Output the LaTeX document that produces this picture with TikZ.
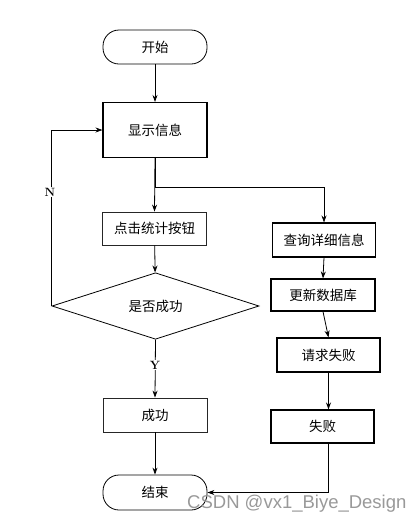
\documentclass[tikz,border=0pt]{standalone}
\usepackage{fontspec}
\newfontfamily\cjk{Noto Sans CJK SC}
\newfontfamily\wm{Liberation Sans}
\usetikzlibrary{shapes.geometric,arrows.meta}
\begin{document}
\begin{tikzpicture}[x=1pt,y=-1pt,
  font=\cjk\fontsize{13.5}{15}\selectfont,
  boxa/.style={draw, line width=1.1pt, rectangle, minimum width=103pt, minimum height=33pt, inner sep=0pt},
  boxb/.style={draw, line width=0.8pt, draw=black!85, rectangle, minimum width=104pt, minimum height=33pt, inner sep=0pt},
  pill/.style={draw, line width=0.8pt, rectangle, rounded corners=16pt, minimum width=104pt, minimum height=34pt, inner sep=0pt},
  decision/.style={draw, line width=0.8pt, diamond, minimum width=207pt, minimum height=55pt, inner sep=0pt},
  arr/.style={draw, line width=0.8pt, -{Stealth[length=7pt,width=5pt]}},
  lbl/.style={font=\rmfamily\bfseries\fontsize{12}{13}\selectfont, fill=white, inner sep=1pt}]
\useasboundingbox (0,0) rectangle (419,523);
\node[pill] (start) at (155,47) {开始};
\node[boxa, minimum height=55pt, minimum width=104pt] (show) at (155,130) {显示信息};
\node[boxb] (click) at (154.5,228.5) {点击统计按钮};
\node[decision] (dec) at (155.5,306) {是否成功};
\node[boxb, minimum height=34pt] (succ) at (155,415) {成功};
\node[pill, minimum height=35pt] (end) at (155,492.5) {结束};
\node[boxa, minimum height=34pt] (query) at (324,240) {查询详细信息};
\node[boxa, minimum width=104pt, minimum height=32pt] (update) at (323,295) {更新数据库};
\node[boxa, minimum height=34pt] (request) at (328.5,355) {请求失败};
\node[boxa, minimum height=33pt] (fail) at (322.5,426.5) {失败};
\coordinate (split) at (155,187);
\draw[arr] (start) -- (show);
\draw[arr] (show.south) -- (click.north);
\draw[arr] (show.south) -- (split) -| (query.north);
\draw[arr] (click) -- (dec);
\draw[arr] (dec.west) -- (dec.west |- show.west) -- (show.west);
\node[lbl] (n) at (50,192) {N};
\draw[arr] (dec.south) -- (succ.north);
\node[lbl] (y) at (155,365) {Y};
\draw[arr] (query.south) -- (update.north);
\draw[arr] (update.south) -- (request.north);
\draw[arr] (request.south) -- (request.south |- fail.north);
\draw[arr] (succ) -- (end);
\draw[arr] (request.south |- fail.south) |- (end.east);
\node[font=\wm\fontsize{18.5}{20}\selectfont, text=black!40, anchor=base west, inner sep=0pt] (wmk) at (187,508) {CSDN @vx1\_Biye\_Design};
\end{tikzpicture}
\end{document}
